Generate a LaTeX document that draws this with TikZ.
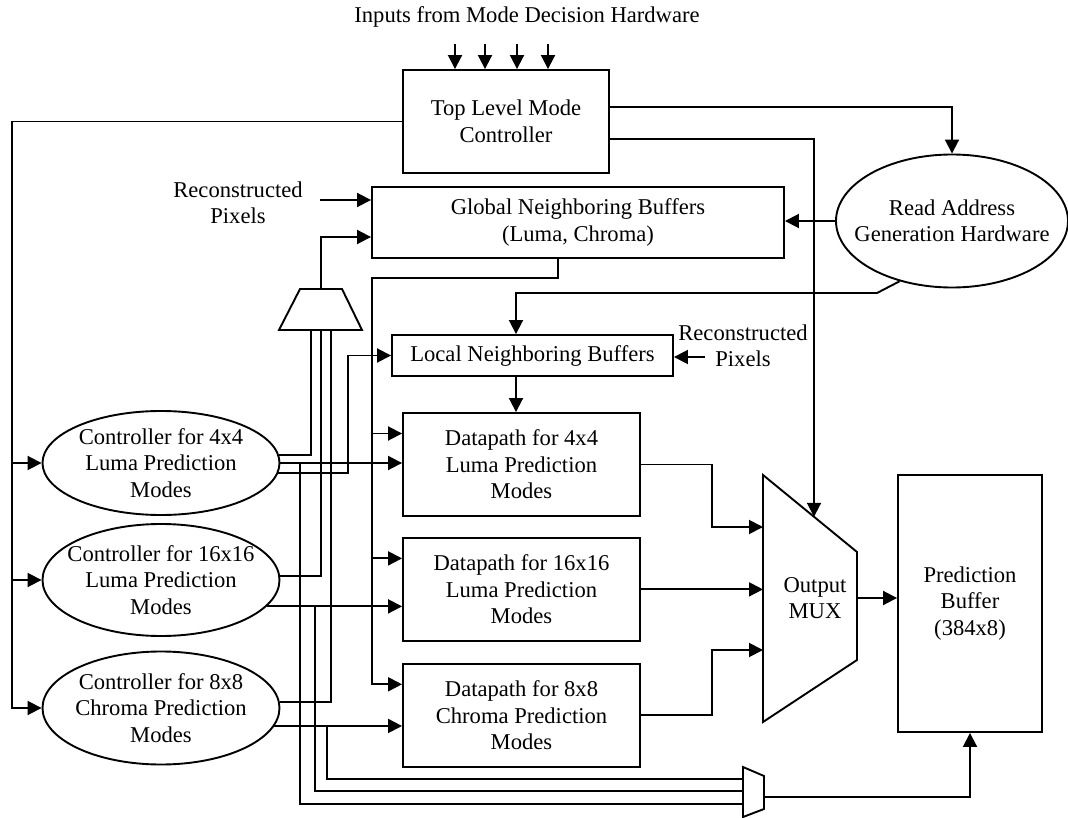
\documentclass[tikz,border=0pt]{standalone}
\usepackage{fontspec}
\setmainfont{Liberation Serif}
\usetikzlibrary{arrows.meta, positioning, shapes.geometric}

\begin{document}
\begin{tikzpicture}[x=1pt, y=-1pt, node distance=20pt, line width=1.9pt,
  every node/.style={font=\fontsize{22.6}{26.5}\selectfont},
  box/.style={draw, inner sep=0pt, align=center},
  dpbox/.style={box, minimum width=237pt, minimum height=103pt},
  ctrl/.style={draw, ellipse, inner xsep=-10pt, inner ysep=0pt, minimum width=237pt, align=center},
  arr/.style={-{Triangle[length=14pt, width=14pt]}}]
  \useasboundingbox (0,0) rectangle (1068,818);

  \node (title) at (527,17) {Inputs from Mode Decision Hardware};
  \node[box, minimum width=206pt, minimum height=103pt] (tlmc) at (506,121.5) {Top Level Mode\\Controller};
  \node[box, minimum width=412pt, minimum height=71pt] (gnb) at (578,222.5) {Global Neighboring Buffers\\(Luma, Chroma)};
  \node[draw, ellipse, inner xsep=-16pt, inner ysep=0pt, minimum width=232pt, minimum height=133pt, align=center] (rag) at (952,221) {Read Address\\Generation Hardware};
  \node[align=center] (recon1) at (238,203) {Reconstructed\\Pixels};
  \node[box, minimum width=281pt, minimum height=41pt] (lnb) at (532.5,355.5) {Local Neighboring Buffers};
  \node[align=center] (recon2) at (743,346) {Reconstructed\\Pixels};
  \node[ctrl, minimum height=104pt] (ctl4) at (161,463) {Controller for 4x4\\Luma Prediction\\Modes};
  \node[ctrl, minimum height=112pt] (ctl16) at (161,580) {Controller for 16x16\\Luma Prediction\\Modes};
  \node[ctrl, minimum height=113pt] (ctl8) at (161,708) {Controller for 8x8\\Chroma Prediction\\Modes};
  \node[dpbox] (dp4) at (521.5,464.5) {Datapath for 4x4\\Luma Prediction\\Modes};
  \node[dpbox, below=of dp4] (dp16) {Datapath for 16x16\\Luma Prediction\\Modes};
  \node[dpbox, below=21pt of dp16] (dp8) {Datapath for 8x8\\Chroma Prediction\\Modes};
  \node[align=center] (omux) at (815,598) {Output\\MUX};
  \node[box, minimum width=144pt, minimum height=257pt] (pbuf) at (970,603.5) {Prediction\\Buffer\\(384x8)};

  \draw (300,289) -- (342,289) -- (362,330) -- (279,330) -- cycle;
  \draw (763,475) -- (857,552) -- (857,660) -- (763,722) -- cycle;
  \draw (743,767) -- (764,776) -- (764,809) -- (743,817) -- cycle;

  \coordinate (smux-out) at (321,289);
  \coordinate (smux-in1) at (311,330);
  \coordinate (smux-in2) at (321,330);
  \coordinate (smux-in3) at (331,330);
  \coordinate (omux-sel) at (814,516.8);
  \coordinate (omux-in1) at (763,527);
  \coordinate (omux-in2) at (763,587.5);
  \coordinate (omux-in3) at (763,650);
  \coordinate (omux-out) at (857,598);
  \coordinate (bmux-in1) at (743,779);
  \coordinate (bmux-in2) at (743,791);
  \coordinate (bmux-in3) at (743,804);
  \coordinate (bmux-out) at (764,797);
  \coordinate (lbus) at (12,121.5);
  \coordinate (gbus) at (372,278);
  \coordinate (mxbus) at (712,0);
  \coordinate (lnbfeed) at (348,0);
  \coordinate (tap4) at (300,0);
  \coordinate (tap16) at (315,0);
  \coordinate (tap8) at (327,0);
  \coordinate (rp1) at (320,200);
  \coordinate (rp2) at (705,357);
  \coordinate (rag-bend) at (877,293);
  \coordinate (lnb-in) at ([xshift=-16.5pt]lnb.north);
  \coordinate (lnb-out) at ([xshift=-16.5pt]lnb.south);

  \foreach \dx in {-51,-21,11,42}
    \draw[arr] ([xshift=\dx pt, yshift=25pt]tlmc.north) -- ([xshift=\dx pt]tlmc.north);
  \draw[arr] (tlmc.west) -- (lbus) |- (ctl8.west);
  \foreach \c in {ctl4,ctl16}
    \draw[arr] (lbus |- \c.west) -- (\c.west);
  \draw[arr] ([yshift=14.5pt]tlmc.east) -| (rag.north);
  \draw[arr] ([yshift=-17.5pt]tlmc.east) -| (omux-sel);
  \draw[arr] (rag.west) -- (rag.west -| gnb.east);
  \draw[arr] (rp1) -- (rp1 -| gnb.west);
  \draw[arr] (smux-out) |- ([yshift=-14.5pt]gnb.west);
  \draw[arr] ([xshift=-20pt]gnb.south) |- (gbus) |- ([yshift=31pt]dp8.west);
  \foreach \d in {dp4,dp16}
    \draw[arr] ([xshift=-31pt, yshift=31pt]\d.west) -- ([yshift=31pt]\d.west);
  \draw[arr] (rag.229) -- (rag-bend) -| (lnb-in);
  \draw[arr] (lnb-out) -- (lnb-out |- dp4.north);
  \draw[arr] (rp2) -- (rp2 -| lnb.east);

  \draw (ctl4.4) -| (smux-in1);
  \draw (ctl16.2) -| (smux-in2);
  \draw (ctl8.3) -| (smux-in3);
  \draw[arr] (ctl4.355) -| (lnbfeed |- lnb.west) -- (lnb.west);
  \draw[arr] (ctl4.east) -- (ctl4.east -| dp4.west);
  \draw[arr] (ctl16.346) -- (ctl16.346 -| dp16.west);
  \draw[arr] (ctl8.351) -- (ctl8.351 -| dp8.west);
  \draw (tap4 |- ctl4.east) |- (bmux-in3);
  \draw (tap16 |- ctl16.346) |- (bmux-in2);
  \draw (tap8 |- ctl8.351) |- (bmux-in1);

  \draw[arr] (dp4.east) -| (mxbus |- omux-in1) -- (omux-in1);
  \draw[arr] (dp16.east) -- (dp16.east -| omux-in2);
  \draw[arr] (dp8.east) -| (mxbus |- omux-in3) -- (omux-in3);
  \draw[arr] (omux-out) -- (omux-out -| pbuf.west);
  \draw[arr] (bmux-out) -| (pbuf.south);
\end{tikzpicture}
\end{document}
